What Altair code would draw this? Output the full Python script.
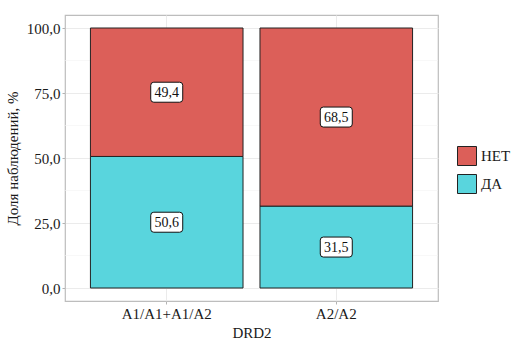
import altair as alt
import pandas as pd

categories = ["A1/A1+A1/A2", "A2/A2"]
groups = ["НЕТ", "ДА"]
net_values = [49.4, 68.5]
da_values = [50.6, 31.5]
y_ticks = [0, 25, 50, 75, 100]
minor_ticks = [12.5, 37.5, 62.5, 87.5]

rows = []
for i, c in enumerate(categories):
    rows.append({"cat": c, "grp": "ДА", "ord": 0, "value": da_values[i]})
    rows.append({"cat": c, "grp": "НЕТ", "ord": 1, "value": net_values[i]})
df = pd.DataFrame(rows)
minor_df = pd.DataFrame({"y": minor_ticks})

FONT = "Liberation Serif"
RED = "#DC5F59"
CYAN = "#59D5DD"
TXT = "#1a1a1a"

yscale = alt.Scale(domain=[-5, 105], nice=False, zero=False)
xscale = alt.Scale(domain=categories, paddingInner=0.1, paddingOuter=0.15)

base = alt.Chart(df).transform_stack(
    stack="value", groupby=["cat"], as_=["lo", "hi"],
    sort=[alt.SortField("ord", order="ascending")]
).transform_calculate(
    mid="(datum.lo + datum.hi) / 2",
    label="replace(format(datum.value, '.1f'), '.', ',')"
)

minor = alt.Chart(minor_df).mark_rule(color="#F3F3F3", strokeWidth=0.6).encode(
    y=alt.Y("y:Q", scale=yscale)
)

axis_common = dict(labelFont=FONT, titleFont=FONT, labelFontSize=15, titleFontSize=15,
                   labelColor=TXT, titleColor=TXT, titleFontWeight="normal",
                   grid=True, gridColor="#EBEBEB", gridWidth=1,
                   domain=False, tickColor="#B3B3B3", tickSize=3, labelPadding=2)

bars = base.mark_bar(stroke="#222222", strokeWidth=1).encode(
    x=alt.X("cat:N", scale=xscale, sort=categories,
            axis=alt.Axis(title="DRD2", labelAngle=0, bandPosition=0.5,
                          titlePadding=4, **axis_common)),
    y=alt.Y("lo:Q", scale=yscale,
            axis=alt.Axis(title="Доля наблюдений, %", values=y_ticks,
                          labelExpr="replace(format(datum.value, '.1f'), '.', ',')",
                          titlePadding=6, **axis_common)),
    y2="hi:Q",
    color=alt.Color("grp:N", scale=alt.Scale(domain=groups, range=[RED, CYAN]),
                    legend=alt.Legend(title=None, orient="none", legendX=392, legendY=131,
                                      symbolType="square", symbolSize=361,
                                      symbolStrokeColor="#222222", symbolStrokeWidth=1,
                                      symbolOpacity=1, labelFont=FONT, labelFontSize=15,
                                      labelColor=TXT, rowPadding=4, labelOffset=4)),
)

boxes = base.mark_point(
    shape="M -0.81,-0.625 L 0.81,-0.625 Q 1,-0.625 1,-0.435 L 1,0.435 Q 1,0.625 0.81,0.625 L -0.81,0.625 Q -1,0.625 -1,0.435 L -1,-0.435 Q -1,-0.625 -0.81,-0.625 Z",
    size=1024, filled=True, fill="white", stroke="#111111", strokeWidth=1, opacity=1
).encode(
    x=alt.X("cat:N", scale=xscale, sort=categories),
    y=alt.Y("mid:Q", scale=yscale),
)

labels = base.mark_text(font=FONT, fontSize=14, color="#111111", baseline="middle", dy=1).encode(
    x=alt.X("cat:N", scale=xscale, sort=categories),
    y=alt.Y("mid:Q", scale=yscale),
    text="label:N",
)

chart = alt.layer(minor, bars, boxes, labels).properties(
    width=373, height=286,
    padding={"left": 65, "top": 15, "right": 76, "bottom": 52},
    autosize="none",
    background="white",
).configure_view(
    stroke="#BDBDBD", strokeWidth=1.2
).configure_legend(
    labelFont=FONT, labelFontSize=15, labelColor=TXT
).configure_text(
    font=FONT
)

chart.save("out.html", embed_options={"renderer": "svg", "actions": False})
